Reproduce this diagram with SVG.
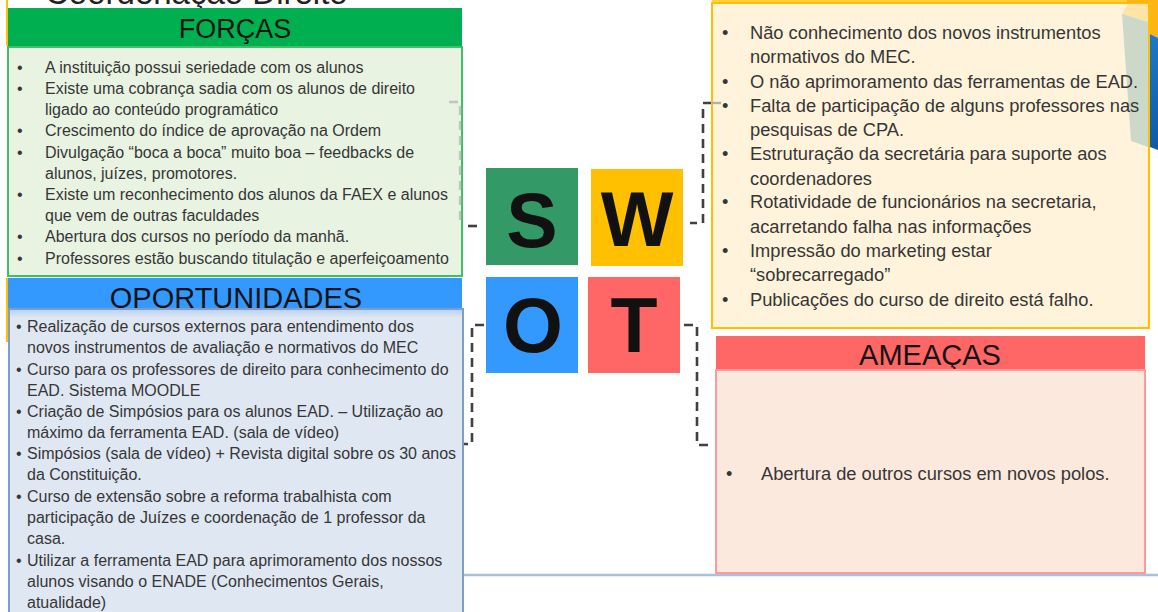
<svg xmlns="http://www.w3.org/2000/svg" width="1158" height="612" viewBox="0 0 1158 612">
<defs>
<style>
.hdr{font-family:"Liberation Sans",Arial,sans-serif;fill:#141414;text-anchor:middle}
.t16{font-family:"Liberation Sans",Arial,sans-serif;font-size:16px;fill:#363636}
.t15{font-family:"Liberation Sans",Arial,sans-serif;font-size:16px;fill:#363636}
.t18{font-family:"Liberation Sans",Arial,sans-serif;font-size:18.3px;fill:#363636}
.big{font-family:"Liberation Sans",Arial,sans-serif;font-weight:bold;font-size:77px;fill:#111;text-anchor:middle}
.dash{fill:none;stroke:#404040;stroke-width:2.6;stroke-dasharray:9 6}
.faint{fill:none;stroke:#c4c4c4;stroke-width:2.4;stroke-dasharray:9 6}
</style>
<linearGradient id="oband" x1="0" y1="0" x2="0" y2="1">
<stop offset="0" stop-color="#bcd3f2"/>
<stop offset="1" stop-color="#dfe7f3"/>
</linearGradient>
<linearGradient id="blueg" x1="0" y1="0" x2="0" y2="1">
<stop offset="0" stop-color="#1f78c8"/>
<stop offset="1" stop-color="#0d5aa6"/>
</linearGradient>
</defs>
<rect x="0" y="0" width="1158" height="612" fill="#ffffff"/>

<g id="background">
<line x1="7" y1="0" x2="7" y2="46" stroke="#ffc000" stroke-width="2"/>
<line x1="7" y1="278" x2="7" y2="342" stroke="#ffc000" stroke-width="2"/>
<line x1="40" y1="575" x2="463" y2="575" stroke="#c9d6ec" stroke-width="2.5"/>
<line x1="463" y1="575" x2="1158" y2="575" stroke="#a9bfe2" stroke-width="2.5"/>
</g>

<g id="title">
<text x="45" y="3.5" font-family="Liberation Sans, Arial, sans-serif" font-size="33" fill="#222">Coordenação Direito</text>
</g>

<g id="connectors">
<path class="dash" d="M468,226 H482" stroke-dasharray="none"/>
<path class="dash" d="M484,325 H472 V444 H461"/>
<path class="dash" d="M712,103 H703 V223 H690"/>
<path class="dash" d="M684,325 H697 V445 H714"/>
</g>

<g id="forcas">
<rect x="8" y="8" width="454" height="38" fill="#00b050"/>
<text class="hdr" x="235" y="37.5" font-size="27">FORÇAS</text>
<rect x="8" y="47" width="454" height="229" fill="#e8f3e2" stroke="#3fbf66" stroke-width="2"/>
<path class="faint" d="M449,102 H460 V222" stroke="#c9c9c9"/>
<g class="t16">
<text x="17" y="73">•</text><text x="45" y="73">A instituição possui seriedade com os alunos</text>
<text x="17" y="94">•</text><text x="45" y="94">Existe uma cobrança sadia com os alunos de direito</text>
<text x="45" y="115">ligado ao conteúdo programático</text>
<text x="17" y="136">•</text><text x="45" y="136">Crescimento do índice de aprovação na Ordem</text>
<text x="17" y="158">•</text><text x="45" y="158">Divulgação “boca a boca” muito boa – feedbacks de</text>
<text x="45" y="179">alunos, juízes, promotores.</text>
<text x="17" y="200">•</text><text x="45" y="200">Existe um reconhecimento dos alunos da FAEX e alunos</text>
<text x="45" y="221">que vem de outras faculdades</text>
<text x="17" y="242">•</text><text x="45" y="242">Abertura dos cursos no período da manhã.</text>
<text x="17" y="264">•</text><text x="45" y="264">Professores estão buscando titulação e aperfeiçoamento</text>
</g>
</g>

<g id="oportunidades">
<rect x="8" y="278" width="454" height="32" fill="#3399ff"/>
<text class="hdr" x="236" y="308" font-size="29">OPORTUNIDADES</text>
<rect x="9" y="309" width="454" height="310" fill="#dfe7f3" stroke="#7f9dcc" stroke-width="2"/>
<rect x="10" y="310" width="452" height="8" fill="url(#oband)"/>
<g class="t15">
<text x="16" y="332">•</text><text x="27" y="332">Realização de cursos externos para entendimento dos</text>
<text x="27" y="353">novos instrumentos de avaliação e  normativos do MEC</text>
<text x="16" y="375">•</text><text x="27" y="375">Curso para os professores de direito para conhecimento do</text>
<text x="27" y="396">EAD. Sistema MOODLE</text>
<text x="16" y="417">•</text><text x="27" y="417">Criação de Simpósios para os alunos EAD. – Utilização ao</text>
<text x="27" y="438">máximo da ferramenta EAD. (sala de vídeo)</text>
<text x="16" y="459">•</text><text x="27" y="459">Simpósios (sala de vídeo) + Revista digital sobre os 30 anos</text>
<text x="27" y="480">da Constituição.</text>
<text x="16" y="502">•</text><text x="27" y="502">Curso de extensão sobre a reforma trabalhista com</text>
<text x="27" y="523">participação de Juízes e coordenação de 1 professor da</text>
<text x="27" y="544">casa.</text>
<text x="16" y="566">•</text><text x="27" y="566">Utilizar a ferramenta EAD para aprimoramento dos nossos</text>
<text x="27" y="587">alunos visando o ENADE (Conhecimentos Gerais,</text>
<text x="27" y="608">atualidade)</text>
</g>
</g>

<g id="fraquezas">
<line x1="712" y1="1" x2="1130" y2="1" stroke="#ffc000" stroke-width="1.5"/>
<rect x="712" y="3" width="437" height="325" fill="#fff3db" stroke="#ffc000" stroke-width="2"/>
<polygon points="1128,4 1148,4 1148,22 1122,14" fill="#fde4a6"/>
<polygon points="1122,14 1148,22 1148,147 1131,141" fill="#c7d6c7" fill-opacity="0.9"/>
<rect x="1127" y="0" width="31" height="3" fill="#fdb515"/>
<polygon points="1150,0 1158,0 1158,38 1150,34" fill="#fdb515"/>
<polygon points="1150,34 1158,38 1158,150 1150,147" fill="url(#blueg)"/>
<path d="M712,103 H721" fill="none" stroke="#b0b0b0" stroke-width="2.4"/>
<g class="t18">
<text x="722" y="39">•</text><text x="750" y="39">Não conhecimento dos novos instrumentos</text>
<text x="750" y="63">normativos do MEC.</text>
<text x="722" y="87.5">•</text><text x="750" y="87.5">O não aprimoramento das ferramentas de EAD.</text>
<text x="722" y="112">•</text><text x="750" y="112">Falta de participação de alguns professores nas</text>
<text x="750" y="136">pesquisas de CPA.</text>
<text x="722" y="160">•</text><text x="750" y="160">Estruturação da secretária para suporte aos</text>
<text x="750" y="185">coordenadores</text>
<text x="722" y="208">•</text><text x="750" y="208">Rotatividade de funcionários na secretaria,</text>
<text x="750" y="232.5">acarretando falha nas informações</text>
<text x="722" y="256.5">•</text><text x="750" y="256.5">Impressão do marketing estar</text>
<text x="750" y="281">“sobrecarregado”</text>
<text x="722" y="306">•</text><text x="750" y="306">Publicações do curso de direito está falho.</text>
</g>
</g>

<g id="ameacas">
<rect x="716" y="336" width="429" height="34" fill="#ff6666"/>
<text class="hdr" x="930" y="365" font-size="29">AMEAÇAS</text>
<rect x="716" y="370" width="429" height="203" fill="#fce9dd" stroke="#ff9a9a" stroke-width="2"/>
<text class="t18" x="726" y="480">•</text>
<text class="t18" x="761" y="480">Abertura de outros cursos em novos polos.</text>
</g>

<g id="swot-s">
<rect x="486" y="168" width="92" height="97" fill="#339966"/>
<text class="big" x="532" y="247">S</text>
</g>
<g id="swot-w">
<rect x="591" y="169" width="92" height="97" fill="#ffc000"/>
<text class="big" x="637" y="246">W</text>
</g>
<g id="swot-o">
<rect x="486" y="277" width="92" height="96" fill="#3399ff"/>
<text class="big" x="533" y="352">O</text>
</g>
<g id="swot-t">
<rect x="588" y="277" width="92" height="96" fill="#ff6666"/>
<text class="big" x="634" y="352">T</text>
</g>
</svg>
